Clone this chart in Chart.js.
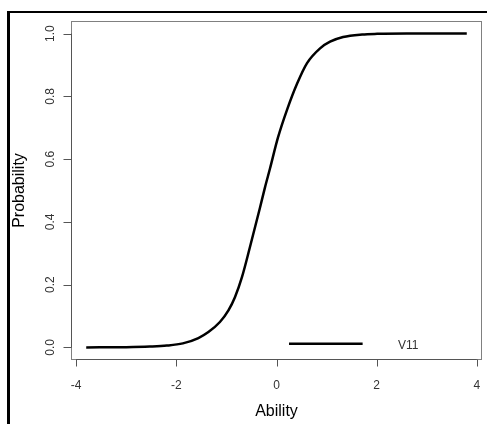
<!DOCTYPE html>
<html lang="en">
<head>
  <meta charset="UTF-8" />
  <title>Item characteristic curve</title>
  <script src="https://cdn.jsdelivr.net/npm/chart.js@4.4.1/dist/chart.umd.min.js"></script>
  <style>
    html, body { margin: 0; padding: 0; background: #fff; }
    canvas { display: block; }
  </style>
</head>
<body>
  <canvas id="icc" width="487" height="424"></canvas>

  <script>
    // curve points for item V11
    const ability = [-3.8, -3.0, -2.53, -2.19, -1.87, -1.56, -1.36, -1.13, -0.96, -0.83, -0.69, -0.53, -0.33,
                     -0.23, -0.13, 0.03, 0.21, 0.41, 0.61, 0.87, 1.07, 1.33, 1.71, 2.01, 2.6, 3.2, 3.8];
    const probability = [0.0, 0.001, 0.003, 0.006, 0.013, 0.03, 0.049, 0.081, 0.118, 0.16, 0.224, 0.32, 0.445,
                         0.51, 0.57, 0.669, 0.757, 0.84, 0.906, 0.953, 0.974, 0.989, 0.997, 0.999, 1.0, 1.0, 1.0];

    const xTicks = [-4, -2, 0, 2, 4];
    const yTicks = [0.0, 0.2, 0.4, 0.6, 0.8, 1.0];
    const itemName = 'V11';
    const legendSpan = [0.25, 1.72];   // ability range covered by the legend line
    const legendLevel = 0.012;

    const FONT = '"Liberation Sans", Arial, sans-serif';

    // R-style frame, axes, titles and legend drawn by hand
    const baseGraphics = {
      id: 'baseGraphics',
      afterDraw(chart) {
        const ctx = chart.ctx;
        const area = chart.chartArea;
        const xs = chart.scales.x, ys = chart.scales.y;
        ctx.save();

        // outer figure frame (top and left edges)
        ctx.fillStyle = '#000';
        ctx.fillRect(8, 11, chart.width - 8, 2);
        ctx.fillRect(7, 11, 3, chart.height - 11);

        // plot box
        ctx.strokeStyle = '#808080';
        ctx.lineWidth = 1;
        ctx.strokeRect(Math.round(area.left) + 0.5, Math.round(area.top) + 0.5,
                       Math.round(area.right - area.left) - 1, Math.round(area.bottom - area.top) - 1);

        // x axis
        ctx.strokeStyle = '#555';
        const yAxis = Math.round(area.bottom) - 0.5;
        ctx.beginPath();
        ctx.moveTo(xs.getPixelForValue(xTicks[0]), yAxis);
        ctx.lineTo(xs.getPixelForValue(xTicks[xTicks.length - 1]), yAxis);
        xTicks.forEach(v => {
          const px = Math.round(xs.getPixelForValue(v)) + 0.5;
          ctx.moveTo(px, yAxis);
          ctx.lineTo(px, yAxis + 7);
        });
        ctx.stroke();

        ctx.fillStyle = '#333';
        ctx.font = '12px ' + FONT;
        ctx.textAlign = 'center';
        ctx.textBaseline = 'alphabetic';
        xTicks.forEach(v => {
          ctx.fillText(String(v), xs.getPixelForValue(v), 389);
        });

        // y axis
        const xAxis = Math.round(area.left) + 0.5;
        ctx.beginPath();
        ctx.moveTo(xAxis, ys.getPixelForValue(yTicks[0]));
        ctx.lineTo(xAxis, ys.getPixelForValue(yTicks[yTicks.length - 1]));
        yTicks.forEach(v => {
          const py = Math.round(ys.getPixelForValue(v)) + 0.5;
          ctx.moveTo(xAxis, py);
          ctx.lineTo(xAxis - 8, py);
        });
        ctx.stroke();

        yTicks.forEach(v => {
          ctx.save();
          ctx.translate(54, ys.getPixelForValue(v));
          ctx.rotate(-Math.PI / 2);
          ctx.fillText(v.toFixed(1), 0, 0);
          ctx.restore();
        });

        // axis titles
        ctx.fillStyle = '#000';
        ctx.font = '16px ' + FONT;
        ctx.fillText('Ability', (area.left + area.right) / 2, 416);
        ctx.save();
        ctx.translate(24, (area.top + area.bottom) / 2);
        ctx.rotate(-Math.PI / 2);
        ctx.fillText('Probability', 0, 0);
        ctx.restore();

        // legend (no box)
        const ly = ys.getPixelForValue(legendLevel);
        ctx.strokeStyle = '#000';
        ctx.lineWidth = 2.5;
        ctx.beginPath();
        ctx.moveTo(xs.getPixelForValue(legendSpan[0]), ly);
        ctx.lineTo(xs.getPixelForValue(legendSpan[1]), ly);
        ctx.stroke();
        ctx.fillStyle = '#333';
        ctx.font = '12px ' + FONT;
        ctx.textAlign = 'left';
        ctx.textBaseline = 'middle';
        ctx.fillText(itemName, 398, ly + 2);

        ctx.restore();
      }
    };

    new Chart(document.getElementById('icc'), {
      type: 'scatter',
      data: {
        datasets: [{
          label: itemName,
          data: ability.map((a, i) => ({ x: a, y: probability[i] })),
          showLine: true,
          borderColor: '#000',
          borderWidth: 2.5,
          pointRadius: 0,
          cubicInterpolationMode: 'monotone',
          clip: false
        }]
      },
      options: {
        responsive: false,
        animation: false,
        layout: { padding: { left: 71, top: 21, right: 5, bottom: 64 } },
        scales: {
          x: { type: 'linear', min: -4.104, max: 4.104, display: false },
          y: { type: 'linear', min: -0.04, max: 1.04, display: false }
        },
        plugins: {
          legend: { display: false },
          tooltip: { enabled: false }
        }
      },
      plugins: [baseGraphics]
    });
  </script>
</body>
</html>
